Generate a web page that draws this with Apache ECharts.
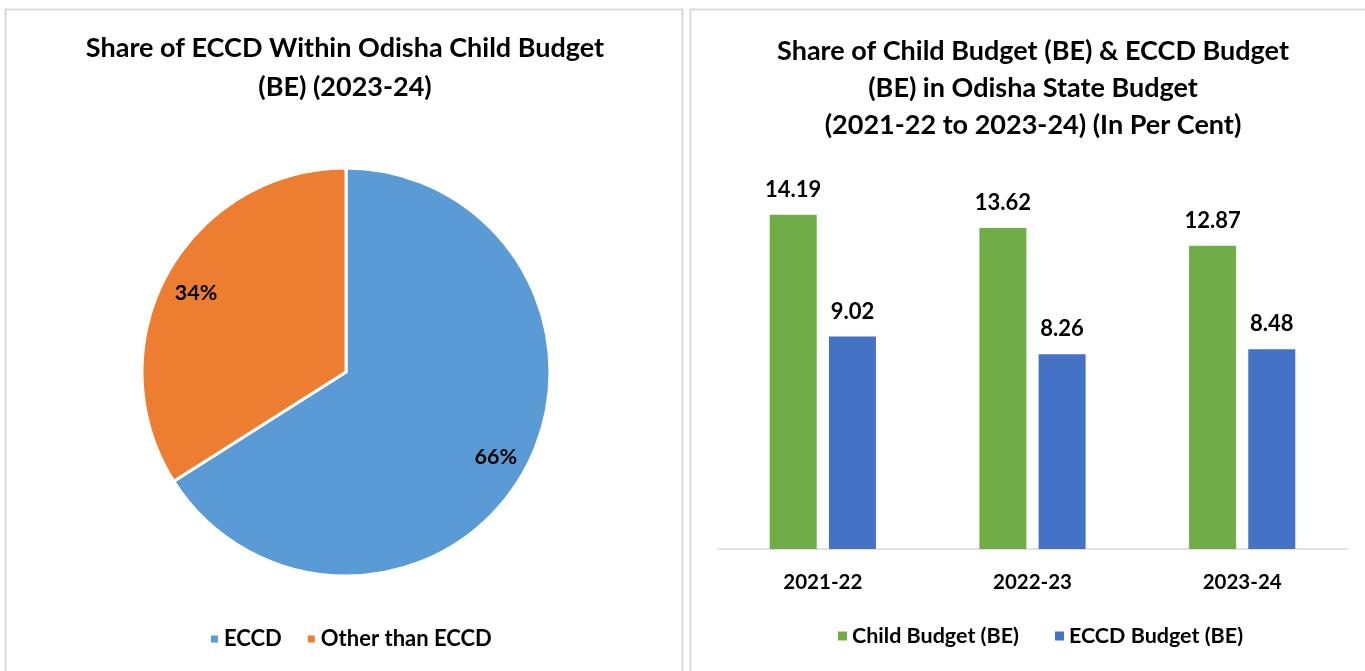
<!DOCTYPE html>
<html>
<head>
<meta charset="utf-8">
<script src="https://cdn.jsdelivr.net/npm/echarts@6/dist/echarts.min.js"></script>
<style>
html,body{margin:0;padding:0;background:#fff;}
#c{width:1365px;height:671px;}
</style>
</head>
<body>
<div id="c"></div>
<script>
// ---- data ----
const pieNames = ['ECCD', 'Other than ECCD'];
const pieValues = [66, 34];
const years = ['2021-22', '2022-23', '2023-24'];
const childBudget = [14.19, 13.62, 12.87];
const eccdBudget = [9.02, 8.26, 8.48];
const seriesNames = ['Child Budget (BE)', 'ECCD Budget (BE)'];

const FONT = 'Lato';
const W = 'bold';
const pieColors = ['#5B9BD5', '#ED7D31'];
const barColors = ['#70AD47', '#4472C4'];

const pieData = pieNames.map((n, i) => ({ name: n, value: pieValues[i], itemStyle: { color: pieColors[i] } }));

const chart = echarts.init(document.getElementById('c'), null, { renderer: 'canvas' });
chart.setOption({
  backgroundColor: '#fff',
  animation: false,
  graphic: [
    { type: 'rect', shape: { x: 5.5, y: 9.5, width: 677, height: 680 }, style: { fill: 'none', stroke: '#d9d9d9', lineWidth: 2 }, silent: true },
    { type: 'rect', shape: { x: 690.5, y: 9.5, width: 690, height: 680 }, style: { fill: 'none', stroke: '#d9d9d9', lineWidth: 2 }, silent: true }
  ],
  title: [
    {
      text: 'Share of ECCD Within Odisha Child Budget\n(BE) (2023-24)',
      left: 340, top: 24, textAlign: 'center',
      textStyle: { fontFamily: FONT, fontWeight: W, fontSize: 27, lineHeight: 39, color: '#000' }
    },
    {
      text: 'Share of Child Budget (BE) & ECCD Budget\n(BE) in Odisha State Budget\n(2021-22 to 2023-24) (In Per Cent)',
      left: 1028, top: 28, textAlign: 'center',
      textStyle: { fontFamily: FONT, fontWeight: W, fontSize: 27, lineHeight: 37, color: '#000' }
    }
  ],
  legend: [
    {
      data: pieNames, left: 204, top: 623, itemWidth: 9, itemHeight: 9, itemGap: 24, icon: 'rect',
      textStyle: { fontFamily: FONT, fontWeight: W, fontSize: 22, color: '#000' }
    },
    {
      data: seriesNames, left: 833, top: 620, itemWidth: 9, itemHeight: 9, itemGap: 36, icon: 'rect',
      textStyle: { fontFamily: FONT, fontWeight: W, fontSize: 21.5, color: '#000' }
    }
  ],
  grid: { left: 718, right: 18, top: 172, bottom: 122, containLabel: false },
  xAxis: {
    type: 'category', data: years,
    axisLine: { lineStyle: { color: '#d9d9d9', width: 1.5 } },
    axisTick: { show: false },
    axisLabel: { margin: 23, fontFamily: FONT, fontWeight: W, fontSize: 20.5, color: '#000' }
  },
  yAxis: { type: 'value', min: 0, max: 16, show: false, splitLine: { show: false } },
  series: [
    {
      type: 'pie', center: [346, 372], radius: 204, startAngle: 90, clockwise: true,
      data: pieData, label: { show: false }, labelLine: { show: false },
      itemStyle: { borderColor: '#fff', borderWidth: 3 }, silent: true
    },
    {
      type: 'pie', center: [346, 375], radius: [148, 188], startAngle: 90, clockwise: true,
      data: pieNames.map((n, i) => ({ name: n, value: pieValues[i] })),
      itemStyle: { color: 'rgba(0,0,0,0)', borderWidth: 0 },
      label: { show: true, position: 'inside', formatter: '{d}%', fontFamily: FONT, fontWeight: W, fontSize: 21.5, color: '#000' },
      labelLine: { show: false }, silent: true, legendHoverLink: false
    },
    {
      name: seriesNames[0], type: 'bar', data: childBudget, barWidth: 47, barGap: '26%',
      itemStyle: { color: barColors[0] },
      label: { show: true, position: 'top', distance: 14, fontFamily: FONT, fontWeight: W, fontSize: 22, color: '#000' }
    },
    {
      name: seriesNames[1], type: 'bar', data: eccdBudget, barWidth: 47, barGap: '26%',
      itemStyle: { color: barColors[1] },
      label: { show: true, position: 'top', distance: 14, fontFamily: FONT, fontWeight: W, fontSize: 22, color: '#000' }
    }
  ]
});
</script>
</body>
</html>
